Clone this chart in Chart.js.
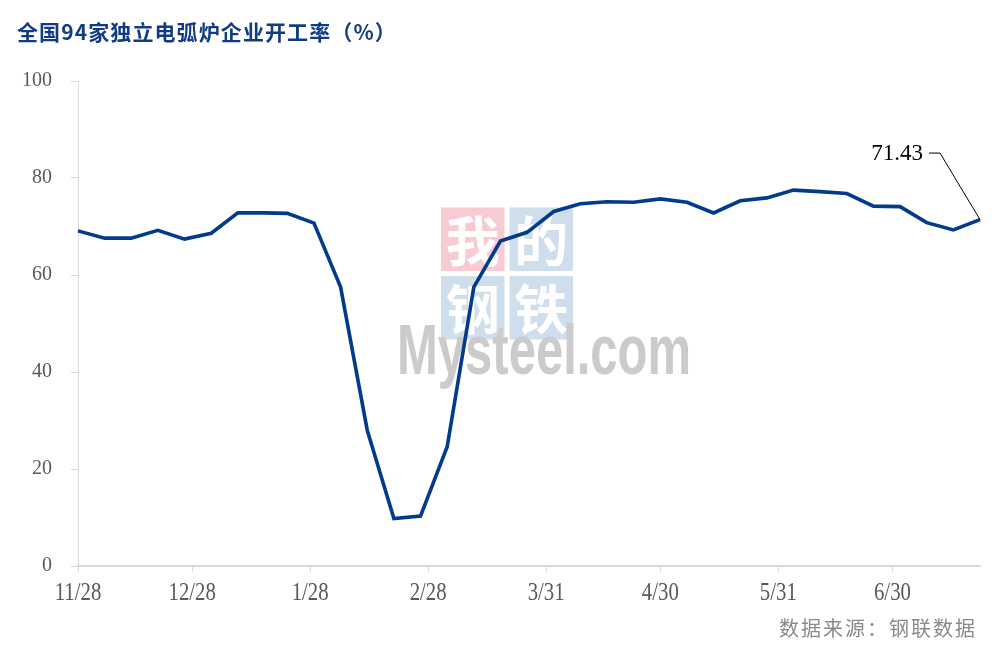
<!DOCTYPE html>
<html>
<head>
<meta charset="utf-8">
<script src="https://cdn.jsdelivr.net/npm/chart.js@4.4.1/dist/chart.umd.min.js"></script>
<style>
  html, body { margin: 0; padding: 0; background: #fff; }
  #wrap { width: 1003px; height: 647px; position: relative; }
</style>
</head>
<body>
<div id="wrap"><canvas id="c" width="1003" height="647"></canvas></div>
<script>
// weekly readings, 94 independent EAF mills (%)
const dates = [
  '2024-11-28', '2024-12-05', '2024-12-12', '2024-12-19', '2024-12-26',
  '2025-01-02', '2025-01-09', '2025-01-16', '2025-01-22', '2025-01-29',
  '2025-02-05', '2025-02-12', '2025-02-19', '2025-02-26', '2025-03-05',
  '2025-03-12', '2025-03-19', '2025-03-26', '2025-04-02', '2025-04-09',
  '2025-04-16', '2025-04-23', '2025-04-30', '2025-05-07', '2025-05-14',
  '2025-05-21', '2025-05-28', '2025-06-04', '2025-06-11', '2025-06-18',
  '2025-06-25', '2025-07-02', '2025-07-09', '2025-07-16', '2025-07-23',
];
const rates = [
  69.1, 67.6, 67.6, 69.2, 67.4,
  68.6, 72.8, 72.8, 72.7, 70.7,
  57.5, 28.0, 9.8, 10.3, 24.6,
  57.5, 67.0, 68.8, 73.1, 74.7,
  75.1, 75.0, 75.7, 75.0, 72.8,
  75.3, 75.9, 77.5, 77.2, 76.8,
  74.2, 74.1, 70.8, 69.3, 71.43,
];
const tickDates = ['2024-11-28', '2024-12-28', '2025-01-28', '2025-02-28', '2025-03-31', '2025-04-30', '2025-05-31', '2025-06-30'];
const tickLabels = ['11/28', '12/28', '1/28', '2/28', '3/31', '4/30', '5/31', '6/30'];
const yTicks = [0, 20, 40, 60, 80, 100];

const TITLE = '全国94家独立电弧炉企业开工率（%）';
const SOURCE = '数据来源：钢联数据';

const LINE = '#023b8b';
const AXIS = '#d9d9d9';
const LABEL = '#595959';
const SERIF = "'Liberation Serif', 'Times New Roman', serif";
const CJK = "'Noto Sans CJK SC', sans-serif";

const DAY = 86400000;
const t0 = Date.parse(dates[0]);
const dayOf = (s) => Math.round((Date.parse(s) - t0) / DAY);
const points = dates.map((d, i) => ({ x: dayOf(d), y: rates[i] }));

// title, watermark, condensed date labels, end-value callout, source line
const decor = {
  id: 'decor',
  beforeDatasetsDraw(chart) {
    const ctx = chart.ctx;
    ctx.save();
    const sq = 63.5, gap = 5, x0 = 441, y0 = 207.5;
    const cells = [['我', '#f7cbd1'], ['的', '#cfdeed'], ['钢', '#cfdeed'], ['铁', '#cfdeed']];
    cells.forEach(([ch, col], i) => {
      const cx = x0 + (i % 2) * (sq + gap), cy = y0 + Math.floor(i / 2) * (sq + gap);
      ctx.fillStyle = col;
      ctx.fillRect(cx, cy, sq, sq);
      ctx.fillStyle = '#fff';
      ctx.font = "bold 54px " + CJK;
      ctx.textAlign = 'center';
      ctx.textBaseline = 'middle';
      ctx.fillText(ch, cx + sq / 2, cy + sq / 2 + 2);
    });
    ctx.translate(397, 374);
    ctx.scale(0.7, 1);
    ctx.fillStyle = '#cbcbcb';
    ctx.font = "bold 70px 'Liberation Sans', Arial, sans-serif";
    ctx.textAlign = 'left';
    ctx.textBaseline = 'alphabetic';
    ctx.fillText('Mysteel.com', 0, 0);
    ctx.restore();
  },
  afterDraw(chart) {
    const ctx = chart.ctx;
    const xs = chart.scales.x;
    ctx.save();

    ctx.fillStyle = '#113b85';
    ctx.font = "bold 21px " + CJK;
    ctx.textAlign = 'left';
    ctx.textBaseline = 'middle';
    ctx.letterSpacing = '1.1px';
    ctx.fillText(TITLE, 17, 32);
    ctx.letterSpacing = '0px';

    ctx.fillStyle = LABEL;
    ctx.font = '26px ' + SERIF;
    ctx.textAlign = 'center';
    xs.ticks.forEach((t, i) => {
      const px = xs.getPixelForValue(t.value);
      ctx.save();
      ctx.translate(px, 593);
      ctx.scale(0.8, 1);
      ctx.fillText(tickLabels[i], 0, 0);
      ctx.restore();
    });

    const meta = chart.getDatasetMeta(0);
    const last = meta.data[meta.data.length - 1];
    ctx.strokeStyle = '#000';
    ctx.lineWidth = 1;
    ctx.beginPath();
    ctx.moveTo(last.x - 51, last.y - 66.5);
    ctx.lineTo(last.x - 40, last.y - 66.5);
    ctx.lineTo(last.x, last.y);
    ctx.stroke();
    ctx.fillStyle = '#000';
    ctx.font = '23px ' + SERIF;
    ctx.textAlign = 'right';
    ctx.fillText(rates[rates.length - 1].toFixed(2), last.x - 57, last.y - 66);

    ctx.fillStyle = '#8a8a8a';
    ctx.font = '20px ' + CJK;
    ctx.letterSpacing = '2px';
    ctx.textAlign = 'right';
    ctx.fillText(SOURCE, 977, 628);
    ctx.restore();
  },
};

new Chart(document.getElementById('c'), {
  type: 'line',
  data: {
    datasets: [{
      data: points,
      borderColor: LINE,
      borderWidth: 3.6,
      pointRadius: 0,
      tension: 0,
      fill: false,
      clip: false,
    }],
  },
  options: {
    responsive: false,
    animation: false,
    layout: { padding: { left: 0, top: 81, right: 23, bottom: 0 } },
    plugins: { legend: { display: false }, tooltip: { enabled: false }, title: { display: false } },
    scales: {
      x: {
        type: 'linear',
        min: 0,
        max: dayOf(dates[dates.length - 1]),
        afterBuildTicks: (s) => { s.ticks = tickDates.map((d) => ({ value: dayOf(d) })); },
        afterFit: (s) => { s.height = 81; },
        ticks: { display: false },
        grid: { display: true, drawOnChartArea: false, drawTicks: true, tickLength: 6, color: AXIS, lineWidth: 1 },
        border: { display: true, color: AXIS, width: 2 },
      },
      y: {
        min: 0,
        max: 100,
        afterBuildTicks: (s) => { s.ticks = yTicks.map((v) => ({ value: v })); },
        afterFit: (s) => { s.width = 78; },
        ticks: { color: LABEL, padding: 19, font: { family: SERIF, size: 20 } },
        grid: { display: true, drawOnChartArea: false, drawTicks: true, tickLength: 7, color: AXIS, lineWidth: 1 },
        border: { display: true, color: AXIS, width: 1 },
      },
    },
  },
  plugins: [decor],
});
</script>
</body>
</html>
